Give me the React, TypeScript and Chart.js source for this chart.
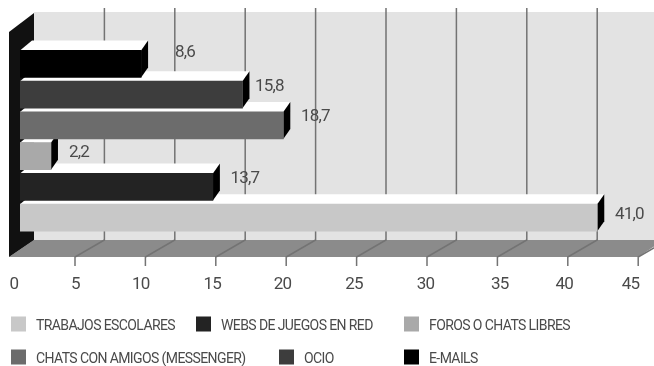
import React, { useEffect, useRef } from "react";
import { Chart, registerables } from "chart.js";

Chart.register(...registerables);

const categories = [
  "TRABAJOS ESCOLARES",
  "WEBS DE JUEGOS EN RED",
  "FOROS O CHATS LIBRES",
  "CHATS CON AMIGOS (MESSENGER)",
  "OCIO",
  "E-MAILS",
];
const values = [41.0, 13.7, 2.2, 18.7, 15.8, 8.6];
const barColors = ["#c8c8c8", "#232323", "#a9a9a9", "#6c6c6c", "#3d3d3d", "#000000"];
const tickLabelShifts = [-6, -15, -20, -19, -19, -18, -17, -13, -19, -23];
const valueLabelOffsets = [
  [32, -3],
  [32, -8],
  [28, -3],
  [32, -9],
  [27, -8],
  [44, -11],
];
const legendSlots = [
  [11, 324],
  [196, 324],
  [404, 324],
  [11, 357],
  [279, 357],
  [404, 357],
];

const FONT = "Roboto, sans-serif";
const TEXT = "#4a4a4a";

const scene = {
  id: "scene",
  beforeDatasetsDraw(chart: any) {
    const { ctx } = chart;
    const x = chart.scales.x;
    ctx.save();
    // back wall
    ctx.fillStyle = "#e3e3e3";
    ctx.fillRect(34, 12, 620, 228);
    // floor
    ctx.fillStyle = "#8b8b8b";
    ctx.beginPath();
    ctx.moveTo(9, 257);
    ctx.lineTo(34, 240);
    ctx.lineTo(664, 240);
    ctx.lineTo(638, 257);
    ctx.closePath();
    ctx.fill();
    // grid lines, floor lines, ticks
    ctx.strokeStyle = "#737373";
    ctx.lineWidth = 1.5;
    x.ticks.forEach((t: any) => {
      if (t.value === 0) return;
      const p = x.getPixelForValue(t.value);
      ctx.beginPath();
      ctx.moveTo(p + 14, 8);
      ctx.lineTo(p + 14, 240);
      ctx.lineTo(p - 15.4, 257);
      ctx.lineTo(p - 15.4, 266);
      ctx.stroke();
    });
    // left wall
    ctx.fillStyle = "#111111";
    ctx.beginPath();
    ctx.moveTo(9, 32);
    ctx.lineTo(34, 13);
    ctx.lineTo(34, 240);
    ctx.lineTo(9, 257);
    ctx.closePath();
    ctx.fill();
    // 3D sides of bars, lowest first
    chart.getDatasetMeta(0).data.forEach((bar: any) => {
      const { x: tip, y, base, height } = bar.getProps(["x", "y", "base", "height"], true);
      const top = y - height / 2;
      const bottom = y + height / 2;
      ctx.fillStyle = "#ffffff";
      ctx.beginPath();
      ctx.moveTo(base, top);
      ctx.lineTo(base + 12, top - 10);
      ctx.lineTo(tip + 7, top - 10);
      ctx.lineTo(tip, top);
      ctx.closePath();
      ctx.fill();
      ctx.fillStyle = "#000000";
      ctx.beginPath();
      ctx.moveTo(tip, top);
      ctx.lineTo(tip + 7, top - 10);
      ctx.lineTo(tip + 7, bottom - 10);
      ctx.lineTo(tip, bottom);
      ctx.closePath();
      ctx.fill();
    });
    ctx.restore();
  },
  beforeDraw(chart: any) {
    const x = chart.scales.x;
    chart.ctx.letterSpacing = "-0.8px";
    const items = x.getLabelItems(chart.chartArea);
    items.forEach((item: any, i: number) => {
      if (!item.shifted) {
        item.options.translation[0] += tickLabelShifts[i] ?? 0;
        item.options.translation[1] += 34;
        item.shifted = true;
      }
    });
  },
  afterDatasetsDraw(chart: any) {
    const { ctx } = chart;
    ctx.save();
    // value labels
    ctx.font = `17px ${FONT}`;
    ctx.fillStyle = TEXT;
    ctx.textAlign = "center";
    ctx.textBaseline = "middle";
    chart.getDatasetMeta(0).data.forEach((bar: any, i: number) => {
      const [dx, dy] = valueLabelOffsets[i];
      ctx.fillText(values[i].toFixed(1).replace(".", ","), bar.x + dx, bar.y + dy);
    });
    // legend
    ctx.textAlign = "left";
    ctx.font = `14px ${FONT}`;
    ctx.letterSpacing = "-0.6px";
    categories.forEach((name, i) => {
      const [lx, ly] = legendSlots[i];
      ctx.fillStyle = barColors[i];
      ctx.fillRect(lx, ly - 7.5, 15, 15);
      ctx.fillStyle = TEXT;
      ctx.fillText(name, lx + 25, ly + 2.5);
    });
    ctx.restore();
  },
};

export default function App() {
  const ref = useRef<HTMLCanvasElement>(null);
  useEffect(() => {
    const chart = new Chart(ref.current!, {
      type: "bar",
      data: {
        labels: categories,
        datasets: [
          {
            data: values,
            backgroundColor: barColors,
            barThickness: 27,
            borderWidth: 0,
          },
        ],
      },
      options: {
        indexAxis: "y",
        animation: false,
        responsive: false,
        layout: { autoPadding: false, padding: { left: 20, right: 0.4, top: 48.5, bottom: 0 } },
        plugins: { legend: { display: false }, tooltip: { enabled: false } },
        scales: {
          x: {
            type: "linear",
            min: 0,
            max: 45,
            grid: { display: false },
            border: { display: false },
            afterFit(s: any) {
              s.height = 133;
              s.paddingRight = 0;
              s.paddingLeft = 0;
            },
            ticks: {
              stepSize: 5,
              maxRotation: 0,
              autoSkip: false,
              padding: 0,
              color: TEXT,
              font: { family: FONT, size: 17 },
            },
          },
          y: {
            type: "category",
            reverse: true,
            display: false,
          },
        },
      },
      plugins: [scene],
    } as any);
    return () => chart.destroy();
  }, []);
  return (
    <div style={{ position: "fixed", left: 0, top: 0, width: 654, height: 366, background: "#fff" }}>
      <canvas ref={ref} width={654} height={366} style={{ display: "block" }} />
    </div>
  );
}
